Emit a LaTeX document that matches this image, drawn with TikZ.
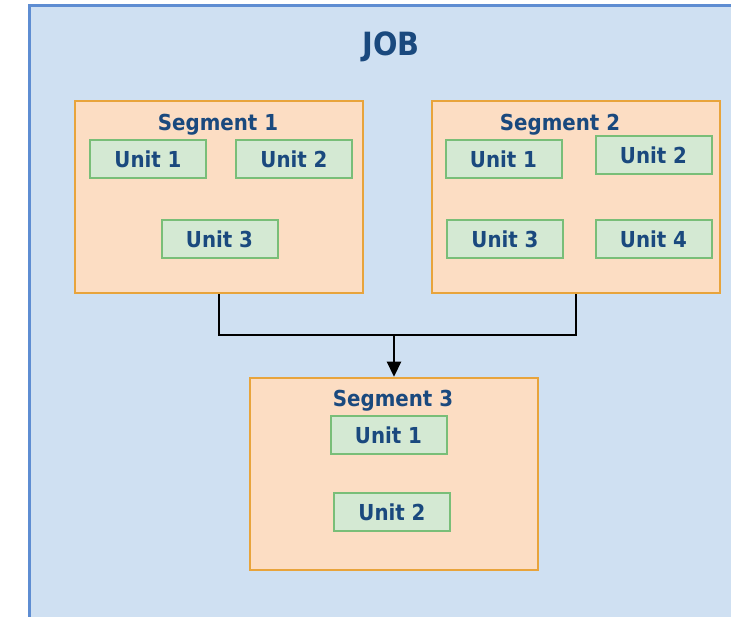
\documentclass[tikz,border=0pt]{standalone}
\usepackage{fontspec}
\setmainfont{DejaVu Sans Condensed}
\usetikzlibrary{arrows.meta}
\definecolor{bgblue}{HTML}{CFE0F2}
\definecolor{bgedge}{HTML}{5E8DD2}
\definecolor{segfill}{HTML}{FCDDC3}
\definecolor{segedge}{HTML}{E8A43C}
\definecolor{unitfill}{HTML}{D4E9D3}
\definecolor{unitedge}{HTML}{79BE78}
\definecolor{txtblue}{HTML}{1A497E}
\tikzset{
  segbox/.style={draw=segedge, fill=segfill, line width=2.5pt, minimum width=288pt, minimum height=192pt, inner sep=0pt},
  unitbox/.style={draw=unitedge, fill=unitfill, line width=2pt, minimum width=116pt, minimum height=38pt, inner sep=0pt, text=txtblue, font=\fontsize{22}{26}\selectfont\bfseries},
  segtitle/.style={text=txtblue, inner sep=0pt, font=\fontsize{22}{26}\selectfont\bfseries},
  conn/.style={draw=black, line width=2.2pt}
}
\begin{document}
\begin{tikzpicture}[x=1pt,y=-1pt]
\useasboundingbox (0,0) rectangle (731,617);
\clip (0,0) rectangle (731,617);
\fill[white] (0,0) rectangle (731,617);
\draw[draw=bgedge, fill=bgblue, line width=3pt] (29.5,5.5) rectangle (760,650);
\node[text=txtblue, inner sep=0pt, font=\fontsize{32}{36}\selectfont\bfseries] (job) at (391,47) {JOB};
% segments
\node[segbox] (seg1) at (219,197) {};
\node[segbox] (seg2) at (576,197) {};
\node[segbox] (seg3) at (394,474) {};
\node[segtitle] (t1) at (218,125) {Segment 1};
\node[segtitle] (t2) at (560,125) {Segment 2};
\node[segtitle] (t3) at (393,401) {Segment 3};
% units
\node[unitbox] (u11) at (148,159) {Unit 1};
\node[unitbox] (u12) at (294,159) {Unit 2};
\node[unitbox] (u13) at (219.5,239) {Unit 3};
\node[unitbox] (u21) at (503.5,159) {Unit 1};
\node[unitbox] (u22) at (653.5,155) {Unit 2};
\node[unitbox] (u23) at (505,239) {Unit 3};
\node[unitbox] (u24) at (653.5,239) {Unit 4};
\node[unitbox] (u31) at (388.5,435) {Unit 1};
\node[unitbox] (u32) at (392,512) {Unit 2};
% connectors
\coordinate (j) at (394,335);
\draw[conn] (seg1.south) |- (j) -| (seg2.south);
\draw[conn, -{Triangle[length=15pt,width=14pt]}] (j) -- (seg3.north);
\end{tikzpicture}
\end{document}
